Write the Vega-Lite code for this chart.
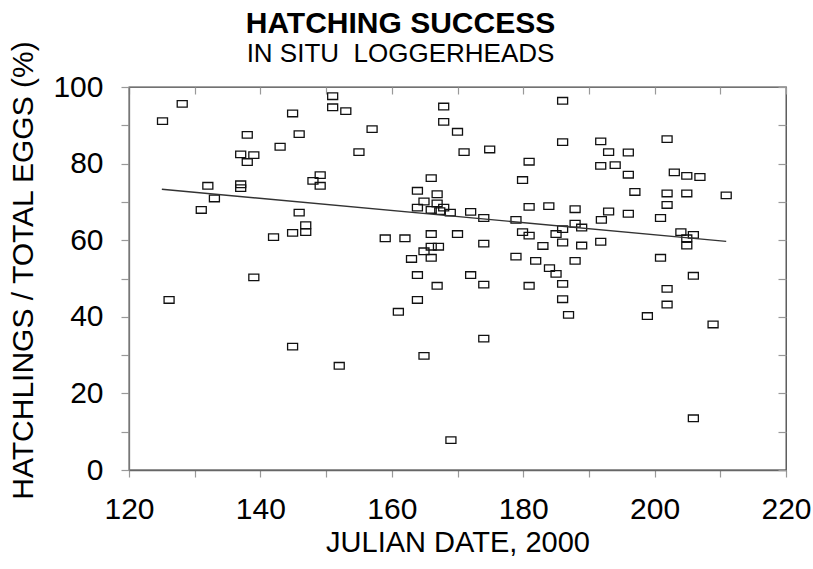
{
  "$schema": "https://vega.github.io/schema/vega-lite/v6.json",
  "autosize": {"type": "none"},
  "width": 657,
  "height": 383,
  "padding": {"left": 129, "top": 87, "right": 27, "bottom": 99},
  "background": "white",
  "config": {
    "font": "Liberation Sans",
    "view": {"stroke": "#444", "strokeWidth": 1.3},
    "axis": {"grid": false, "labelColor": "black", "titleColor": "black", "labelFont": "Liberation Sans", "titleFont": "Liberation Sans", "titleFontWeight": "normal"}
  },
  "title": {
    "text": "HATCHING SUCCESS",
    "subtitle": "IN SITU\u00a0 LOGGERHEADS",
    "fontSize": 30,
    "fontWeight": "bold",
    "color": "black",
    "subtitleFontSize": 26,
    "subtitleColor": "black",
    "subtitlePadding": 2,
    "anchor": "middle",
    "frame": "group",
    "dx": -57,
    "dy": 27,
    "offset": 0
  },
  "datasets": {
    "eggs": [
      {"d": 125.1, "p": 91.1}, {"d": 128.1, "p": 95.6}, {"d": 151.0, "p": 97.6}, {"d": 151.0, "p": 94.7},
      {"d": 153.0, "p": 93.7}, {"d": 144.9, "p": 93.1}, {"d": 138.0, "p": 87.5}, {"d": 145.9, "p": 87.7},
      {"d": 143.0, "p": 84.4}, {"d": 137.0, "p": 82.4}, {"d": 139.0, "p": 82.2}, {"d": 138.0, "p": 80.4},
      {"d": 149.1, "p": 77.0}, {"d": 148.0, "p": 75.5}, {"d": 149.1, "p": 74.2}, {"d": 132.0, "p": 74.2},
      {"d": 137.0, "p": 74.6}, {"d": 137.0, "p": 73.6}, {"d": 133.0, "p": 70.9}, {"d": 131.0, "p": 67.9},
      {"d": 145.9, "p": 67.2}, {"d": 146.9, "p": 63.9}, {"d": 146.9, "p": 62.1}, {"d": 144.9, "p": 61.9},
      {"d": 142.0, "p": 60.8}, {"d": 139.0, "p": 50.3}, {"d": 126.1, "p": 44.4}, {"d": 144.9, "p": 32.2},
      {"d": 152.0, "p": 27.2},
      {"d": 167.9, "p": 94.9}, {"d": 167.9, "p": 90.9}, {"d": 157.0, "p": 89.0}, {"d": 170.0, "p": 88.3},
      {"d": 155.0, "p": 83.0}, {"d": 171.0, "p": 83.0}, {"d": 174.9, "p": 83.7}, {"d": 180.9, "p": 80.5},
      {"d": 179.9, "p": 75.7}, {"d": 166.0, "p": 76.2}, {"d": 163.9, "p": 72.9}, {"d": 166.9, "p": 72.0},
      {"d": 164.9, "p": 70.1}, {"d": 166.9, "p": 69.6}, {"d": 167.9, "p": 68.5}, {"d": 163.9, "p": 68.5},
      {"d": 166.0, "p": 67.9}, {"d": 167.3, "p": 67.6}, {"d": 168.9, "p": 67.2}, {"d": 172.0, "p": 67.4},
      {"d": 174.0, "p": 65.8}, {"d": 178.9, "p": 65.3}, {"d": 180.9, "p": 68.7}, {"d": 183.9, "p": 68.9},
      {"d": 159.0, "p": 60.5}, {"d": 162.0, "p": 60.5}, {"d": 166.0, "p": 61.6}, {"d": 170.0, "p": 61.6},
      {"d": 174.0, "p": 59.1}, {"d": 179.9, "p": 62.1}, {"d": 180.9, "p": 61.2}, {"d": 183.0, "p": 58.5},
      {"d": 166.0, "p": 58.3}, {"d": 167.1, "p": 58.3}, {"d": 164.9, "p": 57.1}, {"d": 163.0, "p": 55.1},
      {"d": 166.0, "p": 55.4}, {"d": 178.9, "p": 55.7}, {"d": 181.9, "p": 54.6}, {"d": 184.0, "p": 52.7},
      {"d": 163.9, "p": 50.9}, {"d": 172.0, "p": 50.9},
      {"d": 166.9, "p": 48.1}, {"d": 174.0, "p": 48.4}, {"d": 180.9, "p": 48.1}, {"d": 163.9, "p": 44.4},
      {"d": 161.0, "p": 41.3}, {"d": 174.0, "p": 34.3}, {"d": 164.9, "p": 29.8}, {"d": 169.0, "p": 7.8},
      {"d": 186.0, "p": 96.4}, {"d": 186.0, "p": 85.6}, {"d": 191.8, "p": 85.8}, {"d": 201.9, "p": 86.4},
      {"d": 193.0, "p": 83.0}, {"d": 196.0, "p": 82.9}, {"d": 191.8, "p": 79.4}, {"d": 194.0, "p": 79.6},
      {"d": 196.0, "p": 77.1}, {"d": 203.0, "p": 77.7}, {"d": 204.9, "p": 76.8}, {"d": 206.9, "p": 76.5},
      {"d": 197.0, "p": 72.6}, {"d": 201.9, "p": 72.2}, {"d": 204.9, "p": 72.2}, {"d": 210.9, "p": 71.7},
      {"d": 201.9, "p": 69.2}, {"d": 187.9, "p": 68.1}, {"d": 193.0, "p": 67.5}, {"d": 196.0, "p": 66.9},
      {"d": 191.9, "p": 65.3}, {"d": 200.9, "p": 65.8}, {"d": 186.0, "p": 62.9}, {"d": 187.9, "p": 64.3},
      {"d": 188.9, "p": 63.3}, {"d": 185.0, "p": 61.6}, {"d": 204.0, "p": 62.1}, {"d": 205.9, "p": 61.4},
      {"d": 204.9, "p": 60.5}, {"d": 204.9, "p": 58.6}, {"d": 186.0, "p": 59.4}, {"d": 188.9, "p": 58.6},
      {"d": 191.8, "p": 59.6}, {"d": 187.9, "p": 54.6}, {"d": 200.9, "p": 55.4}, {"d": 185.0, "p": 51.2},
      {"d": 205.9, "p": 50.7},
      {"d": 186.0, "p": 48.6}, {"d": 201.9, "p": 47.3}, {"d": 186.0, "p": 44.6}, {"d": 201.9, "p": 43.2},
      {"d": 186.9, "p": 40.5}, {"d": 198.9, "p": 40.2}, {"d": 208.9, "p": 38.0}, {"d": 205.9, "p": 13.5}
    ],
    "fit": [
      {"d": 125.0, "p": 73.3},
      {"d": 210.9, "p": 59.7}
    ]
  },
  "layer": [
    {
      "data": {"name": "eggs"},
      "mark": {"type": "point", "shape": "M-1,-0.66H1V0.66H-1Z", "filled": false, "stroke": "#111", "strokeWidth": 1.3, "size": 100, "opacity": 1},
      "encoding": {
        "x": {
          "field": "d", "type": "quantitative",
          "scale": {"domain": [120, 220], "nice": false, "zero": false},
          "axis": {
            "values": [120, 130, 140, 150, 160, 170, 180, 190, 200, 210, 220],
            "labelExpr": "datum.value % 20 === 0 ? datum.label : ''",
            "labelFontSize": 30, "labelPadding": 17, "labelOverlap": false, "labelFlush": false,
            "tickSize": 7, "tickColor": "#999", "tickWidth": 1.2,
            "domainColor": "#666", "domainWidth": 1.5,
            "title": "JULIAN DATE, 2000", "titleFontSize": 29, "titlePadding": 4
          }
        },
        "y": {
          "field": "p", "type": "quantitative",
          "scale": {"domain": [0, 100], "nice": false},
          "axis": {
            "values": [0, 10, 20, 30, 40, 50, 60, 70, 80, 90, 100],
            "labelExpr": "datum.value % 20 === 0 ? datum.label : ''",
            "labelFontSize": 30, "labelPadding": 18, "labelOverlap": false,
            "tickSize": 8, "tickColor": "#999", "tickWidth": 1.2,
            "domainColor": "#777", "domainWidth": 1.3,
            "title": "HATCHLINGS / TOTAL EGGS (%)", "titleFontSize": 30,
            "titleX": -106, "titleY": 183, "titleAngle": -90, "titleAlign": "center", "titleBaseline": "middle"
          }
        }
      }
    },
    {
      "data": {"name": "fit"},
      "mark": {"type": "line", "color": "#333", "strokeWidth": 1.4},
      "encoding": {
        "x": {
          "field": "d", "type": "quantitative",
          "axis": {
            "values": [120, 130, 140, 150, 160, 170, 180, 190, 200, 210, 220],
            "labels": false, "domain": false, "title": null,
            "tickSize": -7, "tickColor": "#999", "tickWidth": 1.2
          }
        },
        "y": {
          "field": "p", "type": "quantitative",
          "axis": {
            "values": [0, 10, 20, 30, 40, 50, 60, 70, 80, 90, 100],
            "labels": false, "domain": false, "title": null,
            "tickSize": -8, "tickColor": "#999", "tickWidth": 1.2
          }
        }
      }
    }
  ],
  "resolve": {"axis": {"x": "independent", "y": "independent"}}
}
